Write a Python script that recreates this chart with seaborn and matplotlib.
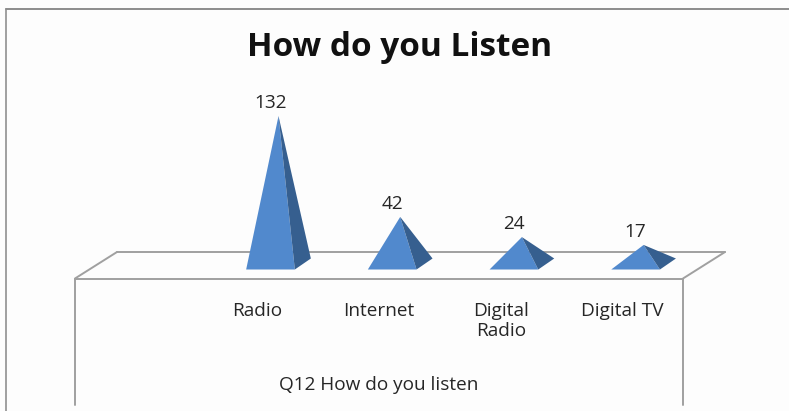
import matplotlib
matplotlib.use('Agg')
import matplotlib.pyplot as plt
from matplotlib.lines import Line2D
from matplotlib.patches import Polygon
from matplotlib.transforms import Affine2D, ScaledTranslation
import seaborn as sns

categories = ['Radio', 'Internet', 'Digital\nRadio', 'Digital TV']
responses = [132, 42, 24, 17]

title = 'How do you Listen'
axis_title = 'Q12 How do you listen'

W, H = 789, 411
FRONT = '#5189CD'
SIDE = '#365F8F'
GREY = '#A0A0A0'
TEXT = '#262626'

sns.set_theme(style='white')
plt.rcParams['font.family'] = ['Open Sans', 'DejaVu Sans']

fig = plt.figure(figsize=(W / 100, H / 100), dpi=100, facecolor='#FDFDFD')
# value 0 sits at y=264px and 132 at y=116px in the reference
ax = fig.add_axes([75 / W, (H - 264) / H, 608 / W, 148 / H])
ax.patch.set_visible(False)

sns.barplot(x=categories, y=responses, width=0.4, color=FRONT, ax=ax)

step = 121.7
ax.set_xlim((75 - 270.5) / step, (683 - 270.5) / step)
ax.set_ylim(0, 132)
px_x = 1 / step
px_y = 132 / 148

# turn each bar into a pyramid, apex height is the value
bars = ax.containers[0]
for bar in bars:
    x0 = bar.get_x()
    x1 = x0 + bar.get_width()
    top = bar.get_height()
    apex = ((x0 + x1) / 2 + 8 * px_x, top)
    front_y = -5.5 * px_y
    back = (x1 + 16 * px_x, front_y + 11 * px_y)
    ax.add_patch(Polygon([(x0, front_y), (x1, front_y), apex], color=FRONT, lw=0, clip_on=False))
    ax.add_patch(Polygon([(x1, front_y), back, apex], color=SIDE, lw=0, clip_on=False))
    bar.set_visible(False)

ax.bar_label(bars, labels=[str(v) for v in responses], padding=3, fontsize=13.7, color=TEXT)

sns.despine(ax=ax, left=True, bottom=True)
ax.set_yticks([])
ax.tick_params(axis='x', length=0, pad=27, labelsize=13.7, labelcolor=TEXT)
# category labels sit 13px left of the pyramids
shift = ScaledTranslation(-13 / 100, 0, fig.dpi_scale_trans)
for label in ax.get_xticklabels():
    label.set_transform(label.get_transform() + shift)
    label.set_linespacing(1.2)
ax.set_xlabel(axis_title, fontsize=13.7, color=TEXT)
ax.xaxis.set_label_coords(0.5, -0.76)

fig.suptitle(title, x=400 / W, y=1 - 48 / H, va='center', fontsize=24, fontweight='bold', color='#111111')

# chart frame and the 3D floor, in pixels
to_fig = Affine2D().scale(1 / W, -1 / H).translate(0, 1) + fig.transFigure
frame_lines = [
    ([6, 6], [9, 411], GREY),
    ([6, 789], [9, 9], '#8C8C8C'),
    ([75, 75], [278.5, 405], GREY),
    ([683, 683], [278.5, 405], GREY),
    ([75, 683], [278.5, 278.5], GREY),
    ([117, 725], [252, 252], GREY),
    ([75, 117], [278.5, 252], GREY),
    ([683, 725], [278.5, 252], GREY),
]
for xs, ys, colour in frame_lines:
    fig.add_artist(Line2D(xs, ys, transform=to_fig, color=colour, lw=1.4, zorder=-1))

fig.savefig('out.png', dpi=100, facecolor=fig.get_facecolor())
